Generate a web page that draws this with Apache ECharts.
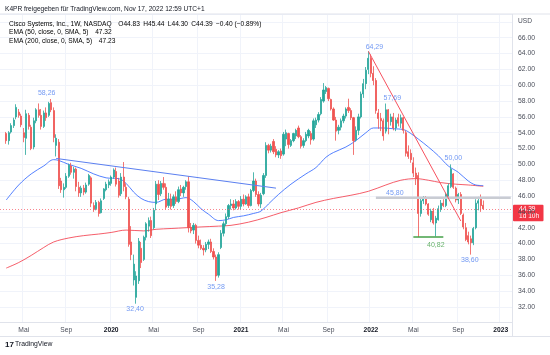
<!DOCTYPE html>
<html><head><meta charset="utf-8">
<script src="https://cdn.jsdelivr.net/npm/echarts@6/dist/echarts.min.js"></script>
<style>html,body{margin:0;padding:0;background:#fff}#c{width:550px;height:355px}</style>
</head><body><div id="c"></div>
<script>
// ---------- DATA (weekly CSCO, first candle = week of 2019-03-18) ----------
const firstWeek = '2019-03-18';
const leadWeeks = 2;        // empty weeks before first candle
const totalWeeks = 205;     // categories on the axis (incl. empty future weeks)

const opens = [
53.9,53.0,54.1,54.9,56.0,56.6,56.1,54.0,53.3,56.2,
54.7,52.2,55.5,56.9,56.2,54.8,56.5,56.2,57.8,56.8,
52.4,52.8,47.9,46.8,47.1,48.5,49.8,49.0,49.4,47.1,
46.4,47.0,46.5,47.5,48.3,44.8,44.4,45.2,43.9,45.7,
46.8,47.4,47.6,48.4,49.1,47.9,46.3,48.4,47.1,45.6,
40.2,35.4,33.2,35.3,39.4,38.0,40.8,42.2,42.9,42.0,
45.0,47.5,46.3,47.6,47.1,44.8,45.6,44.8,45.9,45.3,
46.9,46.4,47.2,47.8,42.0,41.7,42.3,40.4,39.8,39.4,
39.2,39.9,40.2,39.0,38.3,36.0,39.5,41.3,42.5,43.4,
44.8,45.0,44.5,45.3,44.7,45.6,45.0,45.9,44.8,46.7,
47.9,46.2,45.0,46.3,48.6,52.4,51.8,52.9,51.9,51.2,
51.7,51.3,53.2,53.9,52.4,53.0,53.6,54.6,53.5,52.4,
53.0,53.6,53.9,53.2,55.0,55.6,56.4,58.0,59.2,59.6,
58.2,57.0,55.6,54.3,54.7,55.5,56.1,57.2,56.8,55.9,
53.1,54.3,56.0,58.9,60.2,62.0,63.4,61.5,60.6,56.5,
55.8,55.5,54.2,56.9,55.4,56.0,54.6,55.9,55.2,55.9,
54.0,51.6,51.4,50.2,48.9,48.6,43.8,45.4,45.7,45.0,
43.0,44.1,42.6,43.0,44.3,45.1,44.8,46.0,47.2,48.8,
47.0,45.5,46.2,43.6,42.0,41.0,40.6,40.1,42.0,45.1,
45.6,44.83];
const highs = [
54.1,54.2,55.2,55.9,57.6,57.0,56.4,54.6,56.9,56.5,
55.0,55.9,57.1,57.7,57.0,56.8,57.2,57.9,58.26,57.2,
53.8,53.2,48.3,47.6,48.9,50.1,50.2,49.7,49.6,47.8,
47.3,47.4,47.7,48.8,48.5,45.2,45.5,45.4,45.7,47.0,
47.8,48.1,48.6,49.5,49.6,48.3,48.9,50.3,47.6,45.9,
42.2,38.6,36.5,40.7,40.2,41.0,42.7,43.3,43.4,44.5,
47.9,48.0,47.9,48.4,47.6,46.4,46.3,46.2,46.6,47.2,
47.4,47.3,48.0,48.5,42.6,42.6,42.5,41.0,40.5,39.8,
40.2,40.5,40.6,39.4,38.6,38.9,41.7,42.8,43.8,45.0,
45.6,45.5,45.6,45.5,46.0,46.2,46.1,46.3,46.9,49.0,
48.2,46.6,46.4,48.9,52.8,52.6,52.6,53.2,52.3,51.8,
52.0,54.1,54.4,54.0,53.2,54.0,54.5,54.9,53.7,53.3,
54.1,54.5,54.2,55.8,55.9,56.6,58.5,60.27,59.9,59.7,
58.3,57.2,56.0,55.0,55.8,56.4,57.2,58.3,57.1,56.0,
54.8,56.4,59.2,60.8,62.3,64.29,63.9,62.4,60.9,57.0,
56.5,55.8,57.69,57.0,56.4,56.5,55.9,56.4,56.3,56.0,
54.3,52.4,51.9,50.9,49.6,49.0,45.7,46.0,46.0,45.1,
44.4,44.5,43.5,44.8,45.5,45.6,46.4,47.6,50.0,48.9,
47.2,46.4,46.5,43.8,42.6,41.5,41.0,42.1,45.6,45.9,
46.2,45.44];
const lows = [
52.6,52.5,53.9,54.6,55.7,55.9,54.7,52.8,51.2,54.4,
51.8,51.9,55.2,55.9,54.4,54.6,55.5,56.0,56.6,52.8,
51.0,46.9,46.4,45.8,46.9,48.3,48.7,48.2,46.6,45.9,
45.9,46.1,46.3,47.3,44.6,44.0,44.2,43.4,43.8,45.5,
46.6,47.0,47.3,48.2,47.2,45.8,46.0,46.6,45.6,39.6,
37.9,34.7,32.4,34.9,36.9,37.8,40.4,41.5,40.7,41.8,
44.2,45.5,46.0,46.8,44.3,44.5,44.3,44.5,45.0,45.1,
46.0,45.9,46.8,41.4,41.3,41.2,40.0,39.4,39.2,38.5,
38.9,39.3,38.8,38.0,35.28,35.7,39.3,40.9,42.2,43.1,
44.3,44.2,44.3,44.3,44.3,44.7,44.9,44.5,44.7,46.5,
45.9,44.7,44.5,46.1,48.3,51.4,51.5,51.3,50.9,50.8,
50.7,51.1,52.3,52.0,52.2,52.8,53.2,53.3,52.0,52.1,
52.8,53.3,52.5,53.0,54.6,55.3,56.2,57.8,58.9,58.0,
56.8,55.5,53.0,53.8,54.3,55.2,55.8,56.5,55.6,51.2,
52.9,53.7,55.8,58.4,59.5,61.4,61.0,60.0,56.4,54.5,
54.2,53.0,53.9,53.8,54.9,54.3,54.2,54.8,54.6,53.9,
51.0,50.7,50.2,48.4,47.4,40.82,43.4,45.0,44.8,43.5,
42.7,42.4,40.9,42.9,44.0,44.6,44.6,45.7,47.0,46.9,
45.2,45.0,43.6,41.8,40.3,39.9,38.60,39.8,41.8,44.2,
44.0,44.30];
const closes = [
53.0,54.0,54.9,55.6,57.2,56.2,55.0,53.4,56.4,54.8,
52.0,55.5,56.9,56.2,54.8,56.5,55.9,57.7,56.9,53.4,
53.3,47.3,46.8,47.1,48.5,49.9,49.0,49.4,47.2,46.4,
47.0,46.5,47.4,48.6,45.1,44.3,45.2,43.8,45.4,46.9,
47.5,47.8,48.4,49.3,47.5,46.1,48.4,47.2,45.9,39.9,
38.6,37.4,35.9,40.3,37.6,40.8,42.5,42.9,41.0,44.2,
47.5,46.2,47.6,47.1,44.6,45.6,44.7,45.9,45.3,46.8,
46.4,47.1,47.8,42.0,41.6,42.3,40.4,39.8,39.4,39.2,
39.9,40.2,39.0,38.3,35.9,38.6,41.3,42.5,43.4,44.8,
45.0,44.5,45.3,44.7,45.6,45.0,45.9,44.8,46.7,47.9,
46.2,45.0,46.1,48.6,52.4,51.8,52.3,51.6,51.2,51.6,
51.1,53.8,54.0,52.5,53.0,53.9,54.3,53.5,52.3,53.0,
53.8,54.3,53.1,55.5,55.6,56.3,58.2,59.4,59.7,58.3,
57.0,55.6,54.2,54.7,55.5,56.1,57.0,56.8,55.9,53.0,
54.3,56.0,58.9,60.2,61.9,63.4,61.5,60.6,56.8,55.8,
55.5,53.6,56.9,55.4,56.0,54.6,55.6,55.2,55.9,54.3,
51.4,51.0,50.6,48.9,48.2,43.8,45.4,45.7,45.0,43.7,
44.1,42.6,43.2,44.4,45.1,44.8,46.2,47.3,49.4,47.1,
45.5,46.2,43.8,42.1,40.5,40.2,40.1,41.9,45.1,45.4,
44.79,44.39];

// moving averages: [week index, value]
const ema50 = [[0,45.5],[5,47.4],[10,48.8],[15,49.8],[19,50.6],[21,50.5],[25,50.0],[30,49.5],[35,48.8],[40,48.3],[45,48.2],[48,47.6],[51,46.5],[54,45.7],[57,45.3],[60,45.2],[64,45.6],[68,45.6],[72,45.8],[75,45.3],[78,44.4],[81,43.7],[85,42.9],[88,43.0],[91,43.3],[95,43.5],[99,43.8],[102,44.1],[105,45.0],[109,46.2],[114,47.5],[120,48.8],[124,49.6],[128,50.9],[131,51.5],[136,52.2],[140,53.0],[144,54.0],[147,54.6],[151,54.6],[155,54.5],[159,54.4],[162,53.9],[165,53.2],[169,52.2],[173,51.1],[177,49.8],[181,49.0],[185,47.9],[188,47.4],[191,47.32]];
const ema200 = [[0,36.9],[5,37.6],[10,38.5],[15,39.5],[19,40.2],[25,40.7],[31,41.0],[37,41.2],[42,41.4],[48,41.7],[55,41.6],[60,41.8],[66,41.9],[72,42.0],[78,42.1],[85,42.2],[90,42.3],[97,42.7],[104,43.3],[110,43.9],[117,44.5],[124,45.2],[131,45.7],[138,46.1],[145,46.6],[152,47.4],[158,48.0],[164,48.2],[169,48.0],[174,47.7],[180,47.5],[185,47.4],[191,47.23]];

// drawings: [week index, value]
const trendBlue = [[20,50.75],[108,47.0]];
const trendRed = [[145,64.29],[182,42.85]];
const level4580 = [[148,45.80],[202,45.80]];
const level4082 = [[163,40.82],[175,40.82]];

// high / low annotations
const annoWeek = [18,145,152,178,52,84,186,156,172];
const annoValue = [58.26,64.29,57.69,50.00,32.40,35.28,38.60,45.80,40.82];

// y axis
const yMin = 30, yMax = 69, yStep = 2, yLabelMin = 32, yLabelMax = 66;

// ---------- BUILD ----------
const DAY = 864e5;
const t0 = Date.parse(firstWeek + 'T00:00:00Z') - leadWeeks * 7 * DAY;
const cats = [];
for (let i = 0; i < totalWeeks; i++) cats.push(new Date(t0 + i * 7 * DAY).toISOString().slice(0, 10));

const candles = cats.map((_, i) => {
  const k = i - leadWeeks;
  return (k >= 0 && k < opens.length) ? [opens[k], closes[k], lows[k], highs[k]] : '-';
});
const toIdx = arr => arr.map(([k, v]) => [k + leadWeeks, v]);

const isTick = (idx) => {
  const d = cats[idx]; if (!d) return false;
  const m = +d.slice(5, 7), day = +d.slice(8, 10);
  return day <= 7 && (m === 1 || m === 5 || m === 9);
};

const last = opens.length - 1;
const lastClose = closes[last];
const chg = closes[last] - closes[last - 1];
const pct = chg / closes[last - 1] * 100;
const fmt = v => (v < 0 ? '\u2212' : '') + Math.abs(v).toFixed(2);

const FONT = '"Liberation Sans", Arial, sans-serif';
const UP = '#26a69a', DN = '#ef5350';
const blueTxt = '#4f7ff0';

// label offsets (px) from the anchor point
const annoOffset = [[-4.5,-6],[6,-4],[6.4,-5],[2.5,-6.3],[-1,5],[0,6.4],[-1,5.7],[-1,-4.6],[0,7.6]];
const annoColor = annoWeek.map((_, i) => i === 8 ? '#43a047' : blueTxt);

const chart = echarts.init(document.getElementById('c'), null, { renderer: 'canvas' });
const option = {
  animation: false,
  backgroundColor: '#ffffff',
  grid: { left: 0, right: 38, top: 14, bottom: 32.3, containLabel: false },
  xAxis: {
    type: 'category', data: cats, boundaryGap: true,
    axisLine: { show: true, lineStyle: { color: '#e0e3eb' } },
    axisTick: { show: false },
    axisLabel: {
      interval: (i) => isTick(i),
      formatter: (v) => { const m = +v.slice(5, 7); return m === 1 ? '{y|' + v.slice(0, 4) + '}' : (m === 5 ? 'Mai' : 'Sep'); },
      color: '#4a4e5a', fontSize: 6.7, fontFamily: FONT, margin: 4,
      rich: { y: { fontWeight: 'bold', color: '#131722', fontSize: 6.7, fontFamily: FONT } }
    },
    splitLine: { show: true, interval: (i) => isTick(i), lineStyle: { color: '#f0f3fa', width: 1 } }
  },
  yAxis: {
    type: 'value', position: 'right', min: yMin, max: yMax, interval: yStep,
    axisLine: { show: false }, axisTick: { show: false },
    axisLabel: {
      margin: 6, color: '#4a4e5a', fontSize: 6.8, fontFamily: FONT,
      formatter: v => (v >= yLabelMin && v <= yLabelMax && v % 2 === 0) ? v.toFixed(2) : ''
    },
    splitLine: { show: true, lineStyle: { color: '#f0f3fa', width: 1 } }
  },
  series: [
    {
      type: 'line', data: toIdx(ema200), smooth: 0.35, showSymbol: false, silent: true, z: 1,
      lineStyle: { color: '#f23645', width: 1, opacity: 0.8 }
    },
    {
      type: 'line', data: toIdx(ema50), smooth: 0.35, showSymbol: false, silent: true, z: 1,
      lineStyle: { color: '#2962ff', width: 1, opacity: 0.8 }
    },
    {
      type: 'candlestick', data: candles, barWidth: 1.7, z: 2,
      itemStyle: { color: UP, color0: DN, borderColor: UP, borderColor0: DN, borderWidth: 0.8 },
      markLine: {
        silent: true, symbol: 'none', label: { show: false },
        lineStyle: { color: '#f7525f', type: [1, 2], width: 1, opacity: 0.7 },
        data: [{ yAxis: lastClose }]
      }
    },
    { type: 'line', data: toIdx(level4580), showSymbol: false, silent: true, z: 3,
      lineStyle: { color: '#c9ccd3', width: 2.5 } },
    { type: 'line', data: toIdx(level4082), showSymbol: false, silent: true, z: 3,
      lineStyle: { color: '#43a047', width: 1.5 } },
    { type: 'line', data: toIdx(trendBlue), showSymbol: false, silent: true, z: 3,
      lineStyle: { color: '#5b7ff0', width: 1 } },
    { type: 'line', data: toIdx(trendRed), showSymbol: false, silent: true, z: 3,
      lineStyle: { color: '#f7525f', width: 1 } },
    {
      type: 'scatter', symbolSize: 0, silent: true, z: 4,
      data: annoWeek.map((k, i) => ({
        value: [k + leadWeeks, annoValue[i]],
        label: {
          show: true, position: 'inside', offset: annoOffset[i],
          formatter: annoValue[i].toFixed(2).replace('.', ','),
          color: annoColor[i], fontSize: 7, fontFamily: FONT
        }
      }))
    }
  ]
};
chart.setOption(option);

const py = chart.convertToPixel({ yAxisIndex: 0 }, lastClose);
const legendRich = {
  d: { color: '#131722', fontSize: 6.6, fontFamily: FONT },
  r: { color: '#f23645', fontSize: 6.6, fontFamily: FONT },
  b: { color: '#2962ff', fontSize: 6.6, fontFamily: FONT }
};
chart.setOption({
  graphic: [
    { type: 'line', shape: { x1: 0, y1: 14, x2: 550, y2: 14 }, style: { stroke: '#e0e3eb', lineWidth: 1 }, silent: true },
    { type: 'line', shape: { x1: 512.5, y1: 14, x2: 512.5, y2: 336.5 }, style: { stroke: '#e0e3eb', lineWidth: 1 }, silent: true },
    { type: 'line', shape: { x1: 0, y1: 336.5, x2: 550, y2: 336.5 }, style: { stroke: '#e0e3eb', lineWidth: 1 }, silent: true },
    { type: 'text', x: 5, y: 9, style: { text: 'K4PR freigegeben f\u00fcr TradingView.com, Nov 17, 2022 12:59 UTC+1', fill: '#131722', fontSize: 6.6, fontFamily: FONT, verticalAlign: 'middle' } },
    { type: 'text', x: 9, y: 24, style: {
        text: '{d|Cisco Systems, Inc., 1W, NASDAQ}  {d|O}{r|' + opens[last].toFixed(2) + '} {d|H}{r|' + highs[last].toFixed(2) + '} {d|L}{r|' + lows[last].toFixed(2) + '} {d|C}{r|' + closes[last].toFixed(2) + '} {r|' + fmt(chg) + ' (' + fmt(pct) + '%)}',
        rich: legendRich, verticalAlign: 'middle' } },
    { type: 'text', x: 9, y: 32.3, style: {
        text: '{d|EMA (50, close, 0, SMA, 5)}  {b|' + ema50[ema50.length - 1][1].toFixed(2) + '}', rich: legendRich, verticalAlign: 'middle' } },
    { type: 'text', x: 9, y: 40.7, style: {
        text: '{d|EMA (200, close, 0, SMA, 5)}  {r|' + ema200[ema200.length - 1][1].toFixed(2) + '}', rich: legendRich, verticalAlign: 'middle' } },
    { type: 'text', x: 518, y: 21, style: { text: 'USD', fill: '#4a4e5a', fontSize: 6.6, fontFamily: FONT, verticalAlign: 'middle' } },
    { type: 'rect', shape: { x: 513, y: py - 4, width: 30.5, height: 16.5, r: 1 }, style: { fill: '#f23645' }, silent: true },
    { type: 'text', x: 519, y: py + 0.7, style: { text: lastClose.toFixed(2), fill: '#ffffff', fontSize: 6.6, fontFamily: FONT, verticalAlign: 'middle' } },
    { type: 'text', x: 519, y: py + 7.4, style: { text: '1d 10h', fill: '#ffffff', fontSize: 6.6, fontFamily: FONT, verticalAlign: 'middle' } },
    { type: 'text', x: 5, y: 344.5, style: { text: '17', fill: '#131722', fontSize: 8, fontWeight: 'bold', fontFamily: FONT, verticalAlign: 'middle' } },
    { type: 'text', x: 15, y: 344.5, style: { text: 'TradingView', fill: '#131722', fontSize: 6.8, fontFamily: FONT, verticalAlign: 'middle' } }
  ]
});
</script>
</body></html>
